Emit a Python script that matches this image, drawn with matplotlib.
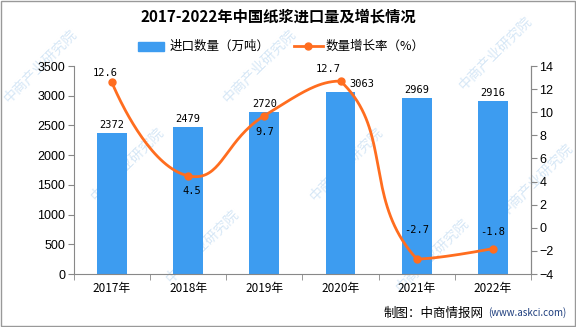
import numpy as np
import matplotlib.pyplot as plt
from matplotlib.patches import Rectangle

plt.rcParams['font.family'] = ['Noto Sans CJK SC', 'DejaVu Sans']

################################## DATA ##################################

years = ['2017年', '2018年', '2019年', '2020年', '2021年', '2022年']
imports = [2372, 2479, 2720, 3063, 2969, 2916]      # 万吨
growth = [12.6, 4.5, 9.7, 12.7, -2.7, -1.8]          # %

bar_color = '#3d9cf0'
line_color = '#ff6d1f'

################################## HELPERS ##################################

def smooth_line(x, y, sx=76.0, sy=11.56, smooth=0.5, n=40):
    # bezier smoothing with control points scaled by neighbour distances
    p = np.column_stack([np.asarray(x, float)*sx, np.asarray(y, float)*sy])
    m = len(p)
    cin = p.copy()
    cout = p.copy()
    lo, hi = p.min(axis=0), p.max(axis=0)
    for i in range(1, m-1):
        v = p[i+1] - p[i-1]
        d0 = np.hypot(*(p[i] - p[i-1]))
        d1 = np.hypot(*(p[i+1] - p[i]))
        cin[i] = np.clip(p[i] - v*smooth*d0/(d0+d1), lo, hi)
        cout[i] = np.clip(p[i] + v*smooth*d1/(d0+d1), lo, hi)
    t = np.linspace(0, 1, n)[:, None]
    pts = []
    for i in range(m-1):
        a, b, c, d = p[i], cout[i], cin[i+1], p[i+1]
        pts.append((1-t)**3*a + 3*(1-t)**2*t*b + 3*(1-t)*t**2*c + t**3*d)
    pts = np.vstack(pts)
    return pts[:, 0]/sx, pts[:, 1]/sy

################################## PLOT ##################################

fig = plt.figure(figsize=(5.76, 3.27), dpi=100)

# faint watermark behind everything
for wx, wy in [(0.07, 0.8), (0.45, 0.8), (0.86, 0.84), (0.22, 0.5), (0.6, 0.5),
               (0.93, 0.45), (0.35, 0.25), (0.75, 0.22)]:
    fig.text(wx, wy, '中商产业研究院', rotation=45, fontsize=10, color='#d6e7f6',
             ha='center', va='center', zorder=-1)

ax = fig.add_axes([0.128, 0.162, 0.794, 0.636])
ax2 = ax.twinx()
ax.patch.set_visible(False)

x = np.arange(len(years))
ax.bar(x, imports, width=0.39, color=bar_color, zorder=2)
bar_dx = [0, 0, 0, 0.28, 0, 0]
for xi, v, dx in zip(x, imports, bar_dx):
    ax.text(xi + dx, v + 50, str(v), ha='center', va='bottom', fontsize=7.5,
            family='DejaVu Sans Mono')

ax.set_xlim(-0.5, len(years)-0.5)
ax.set_ylim(0, 3500)
ax.set_yticks(np.arange(0, 3501, 500))
ax.set_xticks(x)
ax.set_xticklabels(years, fontsize=8.5)
ax.set_xticks(np.arange(-0.5, len(years), 1), minor=True)
ax.tick_params(axis='x', which='major', length=0, pad=6)
ax.tick_params(axis='x', which='minor', length=4, color='#888888')
ax.tick_params(axis='y', labelsize=9, length=4, color='#888888', pad=2)
for lab in ax.get_yticklabels():
    lab.set_family('Liberation Sans')

cx, cy = smooth_line(x, growth)
ax2.plot(cx, cy, color=line_color, lw=2, zorder=3)
ax2.plot(x, growth, 'o', color=line_color, ms=5, zorder=4)
ax2.set_ylim(-4, 14)
ax2.set_yticks(np.arange(-4, 15, 2))
ax2.tick_params(axis='y', labelsize=9, length=4, color='#888888', pad=2)
for lab in ax2.get_yticklabels():
    lab.set_family('Liberation Sans')

# label offsets in points
label_offsets = [(-5, 7), (3, -11), (0, -12), (-9, 9), (0, 21), (0, 12)]
for xi, v, (dx, dy) in zip(x, growth, label_offsets):
    ax2.annotate(f'{v}', (xi, v), xytext=(dx, dy), textcoords='offset points',
                 ha='center', va='center', fontsize=7.5, family='DejaVu Sans Mono')

for a in (ax, ax2):
    a.spines['top'].set_visible(False)
    for side in ('left', 'right', 'bottom'):
        a.spines[side].set_color('#888888')
ax2.spines['left'].set_visible(False)
ax2.spines['bottom'].set_visible(False)

# title and legend
fig.text(0.483, 0.948, '2017-2022年中国纸浆进口量及增长情况', ha='center', va='center',
         fontsize=11, fontweight='bold')
fig.patches.append(Rectangle((0.24, 0.843), 0.045, 0.03, transform=fig.transFigure,
                             color=bar_color))
fig.text(0.295, 0.858, '进口数量（万吨）', ha='left', va='center', fontsize=9)
fig.lines.append(plt.Line2D([0.51, 0.56], [0.858, 0.858], transform=fig.transFigure,
                            color=line_color, lw=2))
fig.lines.append(plt.Line2D([0.535], [0.858], transform=fig.transFigure,
                            color=line_color, marker='o', ms=5))
fig.text(0.565, 0.858, '数量增长率（%）', ha='left', va='center', fontsize=9)

# source note
fig.text(0.983, 0.043, '(www.askci.com)', ha='right', va='center', fontsize=7,
         color='#1f3f7f')
fig.text(0.839, 0.043, '制图：中商情报网', ha='right', va='center', fontsize=9)

fig.patches.append(Rectangle((0.001, 0.002), 0.997, 0.995, transform=fig.transFigure,
                             fill=False, edgecolor='#999999', lw=1))

fig.savefig('out.png', dpi=100)
